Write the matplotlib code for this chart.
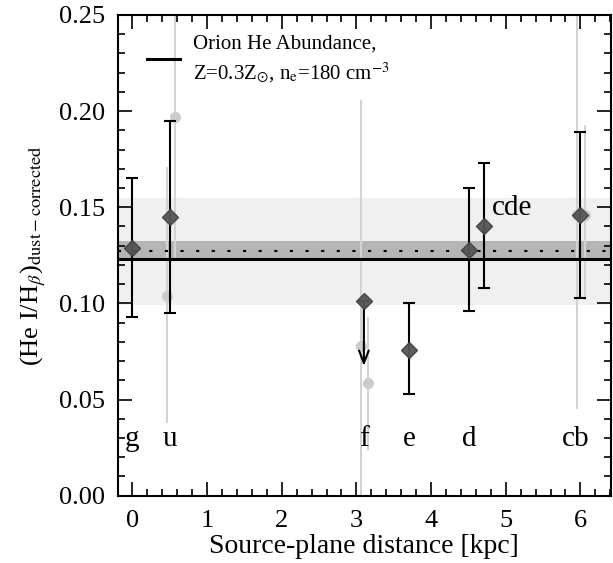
import numpy as np
import matplotlib
matplotlib.use("Agg")
import matplotlib.pyplot as plt
from matplotlib.ticker import MultipleLocator

plt.rcParams['font.family'] = ['Liberation Serif', 'DejaVu Serif']
plt.rcParams['mathtext.fontset'] = 'stix'

# Main measurements (diamonds)
labels = ['g', 'u', 'f', 'e', 'd', 'cde', 'cb']
dist = [0.00, 0.50, 3.10, 3.71, 4.51, 4.71, 6.00]
ratio = [0.129, 0.145, 0.101, 0.076, 0.128, 0.140, 0.146]
err_lo = [0.036, 0.050, 0.0, 0.023, 0.032, 0.032, 0.043]
err_hi = [0.036, 0.050, 0.0, 0.024, 0.032, 0.033, 0.043]
upper_limit = [False, False, True, False, False, False, False]
limit_arrow_to = 0.0675

# Individual-image measurements (light gray)
gray_x = [0.567, 0.46, 3.056, 3.158, 5.96, 6.06]
gray_y = [0.197, 0.104, 0.078, 0.0585, 0.146, 0.146]
gray_lo = [0.122, 0.038, 0.0, 0.024, 0.045, 0.102]
gray_hi = [0.26, 0.171, 0.206, 0.093, 0.26, 0.193]

# Reference levels
orion_he = 0.123
mean_ratio = 0.1273
band_inner = (0.1225, 0.1325)
band_outer = (0.0992, 0.1547)

# Bottom labels
lab_names = ['g', 'u', 'f', 'e', 'd', 'cb']
lab_x = [0.00, 0.50, 3.10, 3.71, 4.51, 5.94]
lab_y = 0.0295

fig = plt.figure(figsize=(6.13, 5.63), dpi=100)
ax = fig.add_axes([0.1917, 0.1195, 0.805, 0.854])

ax.axhspan(*band_outer, color='#f0f0f0', lw=0, zorder=0)
ax.axhspan(*band_inner, color='#b5b5b5', lw=0, zorder=0.5)

ax.axhline(orion_he, color='black', lw=2.2, zorder=2, label='Orion He Abundance,\nZ=0.3Z$_{\\odot}$, n$_{\\rm e}$=180 cm$^{-3}$')
ax.axhline(mean_ratio, color='black', lw=1.5, ls=(0, (1.5, 6)), zorder=2)

# gray points
ax.vlines(gray_x, gray_lo, gray_hi, color='#d3d3d3', lw=1.5, zorder=1)
ax.plot(gray_x, gray_y, 'o', color='#cccccc', ms=8, mec='none', zorder=1.5)

# black points
for x, y, lo, hi, ul in zip(dist, ratio, err_lo, err_hi, upper_limit):
    if ul:
        ax.annotate('', xy=(x, limit_arrow_to), xytext=(x, y),
                    arrowprops=dict(arrowstyle='->,head_length=0.9,head_width=0.35', color='black', lw=1.5,
                                    shrinkA=0, shrinkB=0), zorder=3)
        ax.plot([x - 0.06, x + 0.06], [y, y], color='black', lw=1.5, zorder=3)
    else:
        ax.errorbar(x, y, yerr=[[lo], [hi]], fmt='none', ecolor='black', elinewidth=1.5,
                    capsize=4, capthick=1.5, zorder=3)
ax.plot(dist, ratio, 'D', color='#555555', mec='#444444', ms=8.5, mew=1, zorder=4, alpha=0.95)

for n, x in zip(lab_names, lab_x):
    ax.text(x, lab_y, n, ha='center', va='center', fontsize=21)
ax.text(4.82, 0.1496, 'cde', ha='left', va='center', fontsize=21)

ax.set_xlim(-0.2, 6.41)
ax.set_ylim(0, 0.25)
ax.xaxis.set_major_locator(MultipleLocator(1))
ax.xaxis.set_minor_locator(MultipleLocator(0.2))
ax.yaxis.set_major_locator(MultipleLocator(0.05))
ax.yaxis.set_minor_locator(MultipleLocator(0.01))
ax.yaxis.set_major_formatter(matplotlib.ticker.FormatStrFormatter('%.2f'))
ax.tick_params(which='both', direction='in', top=True, right=True, labelsize=19, width=1.2)
ax.tick_params(which='major', length=10)
ax.tick_params(axis='x', which='major', pad=10)
ax.tick_params(axis='y', which='major', pad=9)
ax.tick_params(which='minor', length=5)
for s in ax.spines.values():
    s.set_linewidth(1.5)

ax.set_xlabel('Source-plane distance [kpc]', fontsize=20, labelpad=2)
ax.set_ylabel(r'(He I/H$_\beta$)$_{\rm dust-corrected}$', fontsize=19, labelpad=8)

leg = ax.legend(loc='upper left', frameon=False, fontsize=15, handlelength=1.6, handletextpad=0.6,
                bbox_to_anchor=(0.03, 0.99), borderaxespad=0.3)
for t in leg.get_texts():
    t.set_linespacing(1.35)

fig.savefig('out.png', dpi=100)
